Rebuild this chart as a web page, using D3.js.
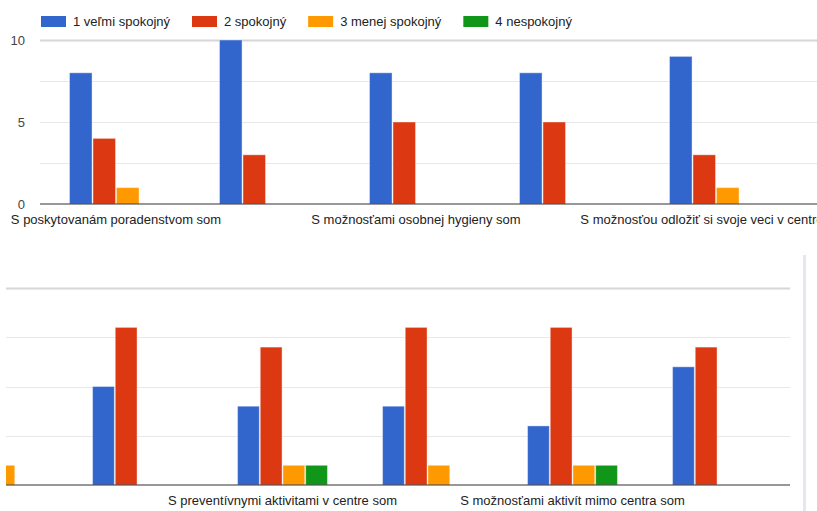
<!DOCTYPE html>
<html>
<head>
<meta charset="utf-8">
<script src="https://cdn.jsdelivr.net/npm/d3@7"></script>
<style>
  html, body { margin: 0; padding: 0; background: #fff; }
  svg { display: block; font-family: "Liberation Sans", Arial, sans-serif; }
</style>
</head>
<body>
<svg id="chart" width="817" height="511"></svg>
<script>
// Series (answer levels) and their colours
const seriesNames = ["1 veľmi spokojný", "2 spokojný", "3 menej spokojný", "4 nespokojný"];
const seriesColors = ["#3366cc", "#dc3912", "#ff9900", "#109618"];

// Upper chart: questions (only every other label is printed)
const topLabels = [
  "S poskytovanám poradenstvom som",
  null,
  "S možnosťami osobnej hygieny som",
  null,
  "S možnosťou odložiť si svoje veci v centre som"
];
const topVeryHappy   = [8, 10, 8, 8, 9];
const topHappy       = [4, 3, 5, 5, 3];
const topLessHappy   = [1, 0, 0, 0, 1];
const topUnhappy     = [0, 0, 0, 0, 0];

// Lower chart: questions (first group is scrolled off to the left)
const bottomLabels = [
  null,
  null,
  "S preventívnymi aktivitami v centre som",
  null,
  "S možnosťami aktivít mimo centra som",
  null
];
const bottomVeryHappy = [null, 5, 4, 4, 3, 6];
const bottomHappy     = [null, 8, 7, 8, 8, 7];
const bottomLessHappy = [1, 0, 1, 1, 1, 0];
const bottomUnhappy   = [0, 0, 1, 0, 1, 0];

const yTicks = [0, 5, 10];
const yGrid = [2.5, 5, 7.5, 10];

const svg = d3.select("#chart");

function drawChart(opts) {
  const { labels, series, x0, x1, yBase, yTop, clipLeft, clipRight, gridRight, showYLabels, labelY } = opts;
  const g = svg.append("g");
  const clipId = "clip" + Math.round(yBase);
  svg.append("clipPath").attr("id", clipId)
    .append("rect").attr("x", clipLeft).attr("y", yTop - 10)
    .attr("width", clipRight - clipLeft).attr("height", yBase - yTop + 40);

  const y = d3.scaleLinear().domain([0, 10]).range([yBase, yTop]);
  const xGroup = d3.scaleBand().domain(d3.range(labels.length)).range([x0, x1])
    .paddingInner(0.38).paddingOuter(0.19);
  const xSeries = d3.scaleBand().domain(d3.range(series.length))
    .range([0, xGroup.bandwidth()]).paddingInner(0.04);

  // gridlines
  g.selectAll("line.grid").data(yGrid).join("line")
    .attr("x1", clipLeft).attr("x2", gridRight)
    .attr("y1", d => Math.round(y(d)) + 0.5).attr("y2", d => Math.round(y(d)) + 0.5)
    .attr("stroke", d => d === 10 ? "#d6d6d6" : "#e8e8e8")
    .attr("stroke-width", d => d === 10 ? 2 : 1);

  // bars
  const bars = g.append("g").attr("clip-path", `url(#${clipId})`);
  labels.forEach((lab, i) => {
    series.forEach((vals, s) => {
      const v = vals[i];
      if (v == null || v === 0) return;
      bars.append("rect")
        .attr("x", xGroup(i) + xSeries(s))
        .attr("y", y(v))
        .attr("width", xSeries.bandwidth())
        .attr("height", y(0) - y(v))
        .attr("fill", seriesColors[s])
        .attr("stroke", "#ffffff")
        .attr("stroke-opacity", 0.4)
        .attr("stroke-width", 1);
    });
  });

  // baseline
  g.append("line")
    .attr("x1", clipLeft).attr("x2", gridRight)
    .attr("y1", y(0)).attr("y2", y(0))
    .attr("stroke", "#333").attr("stroke-width", 1.2);

  if (showYLabels) {
    g.selectAll("text.ytick").data(yTicks).join("text")
      .attr("x", 25).attr("y", d => y(d)).attr("dy", "0.35em")
      .attr("text-anchor", "end").attr("font-size", 13).attr("fill", "#444")
      .text(d => d);
  }

  // category labels
  labels.forEach((lab, i) => {
    if (!lab) return;
    g.append("text")
      .attr("x", xGroup(i) + xGroup.bandwidth() / 2)
      .attr("y", labelY).attr("text-anchor", "middle")
      .attr("font-size", 13).attr("fill", "#222")
      .text(lab);
  });
}

drawChart({
  labels: topLabels,
  series: [topVeryHappy, topHappy, topLessHappy, topUnhappy],
  x0: 41, x1: 791, yBase: 204, yTop: 40,
  clipLeft: 40, clipRight: 817, gridRight: 817,
  showYLabels: true, labelY: 224
});

drawChart({
  labels: bottomLabels,
  series: [bottomVeryHappy, bottomHappy, bottomLessHappy, bottomUnhappy],
  x0: -80, x1: 790, yBase: 485, yTop: 288,
  clipLeft: 6, clipRight: 790, gridRight: 790,
  showYLabels: false, labelY: 505
});

// right-hand panel edge
svg.append("rect").attr("x", 803).attr("y", 255).attr("width", 3).attr("height", 256)
  .attr("fill", "#e6e6ee");

// legend
const legend = svg.append("g");
let lx = 41;
seriesNames.forEach((name, i) => {
  legend.append("rect").attr("x", lx).attr("y", 16).attr("width", 25).attr("height", 11)
    .attr("fill", seriesColors[i]);
  const t = legend.append("text").attr("x", lx + 32).attr("y", 26)
    .attr("font-size", 13).attr("fill", "#222").text(name);
  lx = lx + 32 + t.node().getComputedTextLength() + 22;
});
</script>
</body>
</html>
